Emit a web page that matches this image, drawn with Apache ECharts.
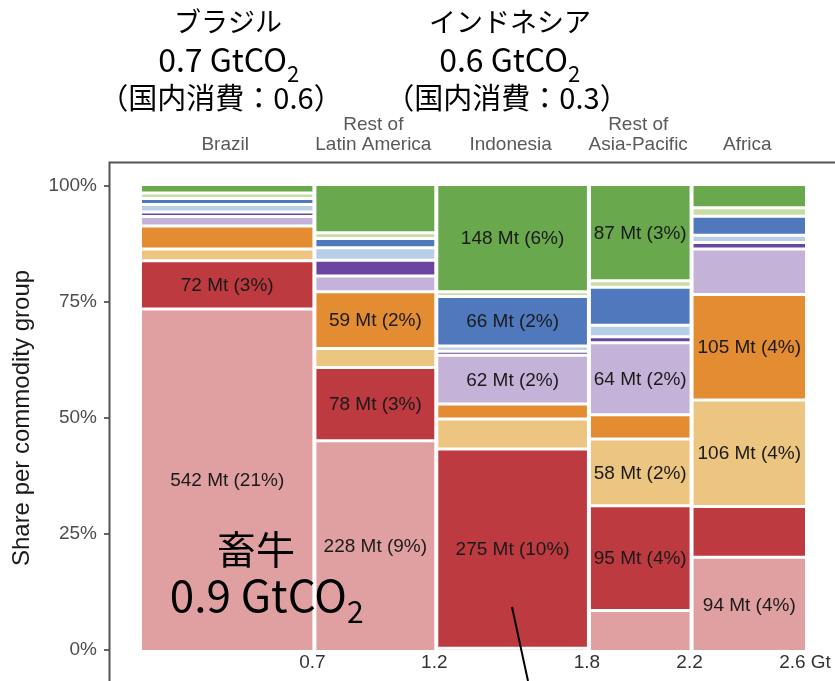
<!DOCTYPE html>
<html>
<head>
<meta charset="utf-8">
<script src="https://cdn.jsdelivr.net/npm/echarts@6/dist/echarts.min.js"></script>
<style>
  html, body { margin: 0; padding: 0; background: #fff; }
  #chart { width: 835px; height: 681px; }
</style>
</head>
<body>
<div id="chart"></div>
<script>
// regions (columns), width = emissions in Gt
const regions = ['Brazil', 'Rest of\nLatin America', 'Indonesia', 'Rest of\nAsia-Pacific', 'Africa'];
const regionGt = [0.68, 0.475, 0.595, 0.40, 0.45];
const xTickLabels = ['0.7', '1.2', '1.8', '2.2', '2.6 Gt'];
const yTicks = [0, 25, 50, 75, 100];

// share (%) per commodity group, bottom to top, one value per region
const sharePink = [73.5, 45.1, 0.4, 8.5, 20.0];
const shareRed = [10.4, 15.8, 42.9, 22.6, 10.9];
const shareLightOrange = [2.5, 4.1, 6.5, 14.4, 23.0];
const shareOrange = [5.0, 12.2, 3.2, 5.2, 22.7];
const shareLavender = [2.0, 3.4, 10.5, 15.5, 9.8];
const sharePurple = [1.0, 3.4, 0.9, 1.3, 1.4];
const shareLightBlue = [1.6, 2.7, 1.1, 2.5, 1.6];
const shareBlue = [1.3, 2.0, 10.7, 8.2, 4.1];
const shareLightGreen = [1.2, 1.2, 1.0, 1.4, 1.8];
const shareGreen = [1.5, 10.1, 22.8, 20.4, 4.7];

// labels written inside segments
const labelPink = ['542 Mt (21%)', '228 Mt (9%)', '', '', '94 Mt (4%)'];
const labelRed = ['72 Mt (3%)', '78 Mt (3%)', '275 Mt (10%)', '95 Mt (4%)', ''];
const labelLightOrange = ['', '', '', '58 Mt (2%)', '106 Mt (4%)'];
const labelOrange = ['', '59 Mt (2%)', '', '', '105 Mt (4%)'];
const labelLavender = ['', '', '62 Mt (2%)', '64 Mt (2%)', ''];
const labelBlue = ['', '', '66 Mt (2%)', '', ''];
const labelGreen = ['', '', '148 Mt (6%)', '87 Mt (3%)', ''];
const noLabel = ['', '', '', '', ''];

const groups = [
  { name: 'pink', color: '#e0a0a2', share: sharePink, label: labelPink },
  { name: 'red', color: '#bd3a40', share: shareRed, label: labelRed },
  { name: 'light orange', color: '#ecc580', share: shareLightOrange, label: labelLightOrange },
  { name: 'orange', color: '#e38c32', share: shareOrange, label: labelOrange },
  { name: 'lavender', color: '#c5b2d9', share: shareLavender, label: labelLavender },
  { name: 'purple', color: '#6b46a0', share: sharePurple, label: noLabel },
  { name: 'light blue', color: '#b8cde6', share: shareLightBlue, label: noLabel },
  { name: 'blue', color: '#5079bd', share: shareBlue, label: labelBlue },
  { name: 'light green', color: '#c6dea6', share: shareLightGreen, label: noLabel },
  { name: 'green', color: '#69a84d', share: shareGreen, label: labelGreen }
];

// column extents on the x axis
const xEnd = [];
let run = 0;
regionGt.forEach(function (g) { run += g; xEnd.push(+run.toFixed(4)); });
const xStart = [0].concat(xEnd.slice(0, -1));
const xMid = xEnd.map(function (e, i) { return +((xStart[i] + e) / 2).toFixed(4); });
// a little room left of the first column, where the y axis sits
const xMin = -0.109;

// stack the shares of every column to 100
const totals = regions.map(function (r, i) {
  return groups.reduce(function (s, g) { return s + g.share[i]; }, 0);
});
const below = regions.map(function () { return 0; });

function renderSeg(params, api) {
  const x0 = api.value(0), x1 = api.value(1), y0 = api.value(2), y1 = api.value(3);
  const a = api.coord([x0, y1]);
  const b = api.coord([x1, y0]);
  const top = a[1] + (y1 >= 99.99 ? 0 : 1.5);
  const bottom = b[1] - (y0 <= 0.01 ? 0 : 1.5);
  const left = a[0] + 4;
  const h = Math.max(0, bottom - top);
  const children = [{
    type: 'rect',
    shape: { x: left, y: top, width: b[0] - left, height: h },
    style: { fill: api.visual('color') }
  }];
  const txt = groups[params.seriesIndex].label[params.dataIndex];
  if (txt) {
    children.push({
      type: 'text',
      x: (left + b[0]) / 2,
      y: top + h / 2 + 1,
      style: {
        text: txt,
        fill: '#1a1a1a',
        font: '19px "Liberation Sans", Arial, sans-serif',
        align: 'center',
        verticalAlign: 'middle'
      }
    });
  }
  return { type: 'group', children: children };
}

const series = groups.map(function (g) {
  const data = regions.map(function (r, i) {
    const y0 = below[i] / totals[i] * 100;
    below[i] += g.share[i];
    const y1 = below[i] / totals[i] * 100;
    return [xStart[i], xEnd[i], y0, y1];
  });
  return {
    name: g.name,
    type: 'custom',
    renderItem: renderSeg,
    itemStyle: { color: g.color },
    encode: { x: [0, 1], y: [2, 3] },
    data: data,
    silent: true
  };
});

function idxOf(arr, v) {
  for (let i = 0; i < arr.length; i++) {
    if (Math.abs(arr[i] - v) < 1e-6) return i;
  }
  return -1;
}

const jp = '"Noto Sans CJK JP", sans-serif';
function jpText(x, y, text, size, align) {
  return {
    type: 'text', x: x, y: y, z: 100,
    style: { text: text, font: size + 'px ' + jp, fill: '#000', align: align || 'center', verticalAlign: 'middle' }
  };
}

const myChart = echarts.init(document.getElementById('chart'));
myChart.setOption({
  animation: false,
  grid: { left: 110, right: 30, top: 186, bottom: 31 },
  xAxis: [{
    type: 'value',
    min: xMin,
    max: xEnd[xEnd.length - 1],
    position: 'bottom',
    axisLine: { show: false, onZero: false },
    axisTick: { show: false },
    splitLine: { show: false },
    axisLabel: {
      customValues: xEnd,
      formatter: function (v) { return xTickLabels[idxOf(xEnd, v)]; },
      color: '#333',
      fontSize: 19,
      fontFamily: 'Liberation Sans',
      margin: 3
    }
  }, {
    type: 'value',
    min: xMin,
    max: xEnd[xEnd.length - 1],
    position: 'top',
    axisLine: { show: false, onZero: false },
    axisTick: { show: false },
    splitLine: { show: false },
    axisLabel: {
      customValues: xMid,
      formatter: function (v) { return regions[idxOf(xMid, v)]; },
      color: '#595959',
      fontSize: 19,
      lineHeight: 20,
      fontFamily: 'Liberation Sans',
      margin: 31
    }
  }],
  yAxis: {
    type: 'value',
    min: 0,
    max: 100,
    interval: 25,
    position: 'left',
    name: 'Share per commodity group',
    nameLocation: 'middle',
    nameGap: 76,
    nameTextStyle: { fontSize: 24, color: '#1a1a1a', fontFamily: 'Liberation Sans' },
    axisLine: { show: false, onZero: false },
    axisTick: { show: true, length: 6, lineStyle: { color: '#333', width: 1.5 } },
    splitLine: { show: false },
    axisLabel: {
      customValues: yTicks,
      formatter: '{value}%',
      color: '#4d4d4d',
      fontSize: 19,
      fontFamily: 'Liberation Sans',
      margin: 13
    }
  },
  series: series,
  graphic: [
    // panel frame
    {
      type: 'polyline', z: 50,
      shape: { points: [[109.5, 681], [109.5, 162.5], [835, 162.5]] },
      style: { stroke: '#555', lineWidth: 2, fill: null }
    },
    // annotations
    jpText(228, 22, 'ブラジル', 27),
    jpText(287, 60, '0.7 GtCO', 32, 'right'),
    jpText(287, 74, '2', 22, 'left'),
    jpText(221, 98, '（国内消費：0.6）', 29),
    jpText(510, 22, 'インドネシア', 27),
    jpText(568, 60, '0.6 GtCO', 32, 'right'),
    jpText(568, 74, '2', 22, 'left'),
    jpText(507, 98, '（国内消費：0.3）', 29),
    jpText(256, 549, '畜牛', 39),
    jpText(347, 595, '0.9 GtCO', 44, 'right'),
    jpText(347, 612, '2', 30, 'left'),
    {
      type: 'line', z: 100,
      shape: { x1: 512, y1: 607, x2: 528, y2: 681 },
      style: { stroke: '#000', lineWidth: 2 }
    }
  ]
});
window.addEventListener('resize', function () { myChart.resize(); });
</script>
</body>
</html>
